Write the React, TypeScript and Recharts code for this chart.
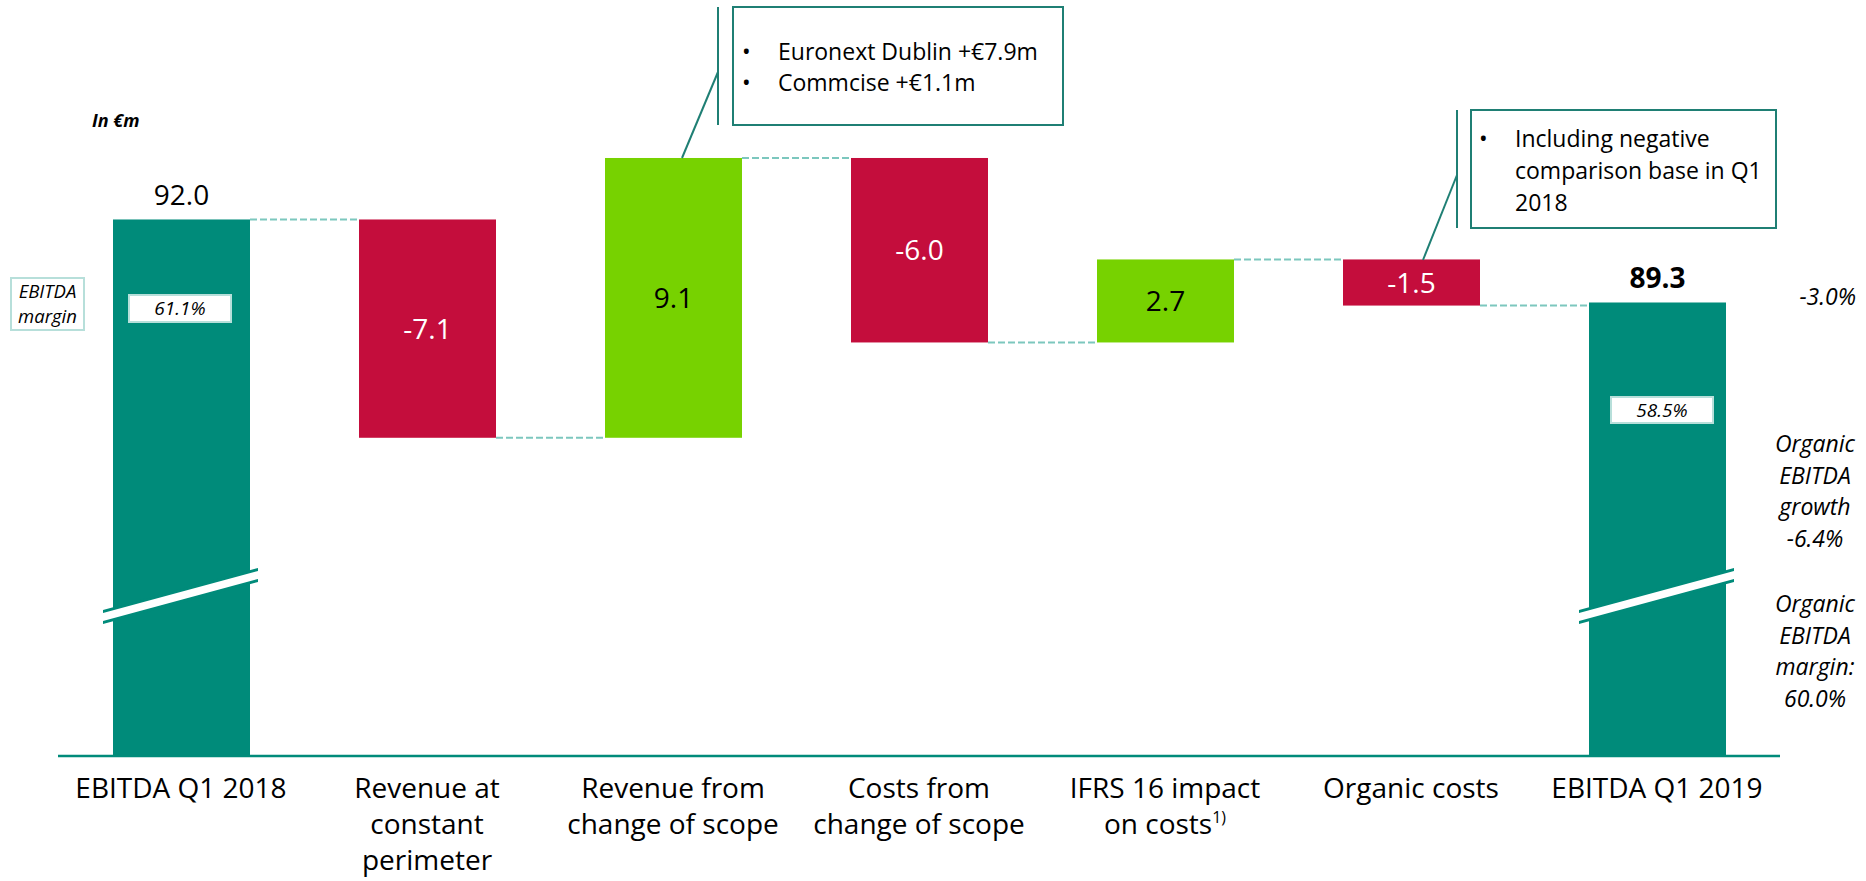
import React from 'react'
import { BarChart, Bar, XAxis, YAxis, LabelList } from 'recharts'

// EBITDA bridge Q1 2018 -> Q1 2019, in €m
const categories = [
  'EBITDA Q1 2018',
  'Revenue at\nconstant\nperimeter',
  'Revenue from\nchange of scope',
  'Costs from\nchange of scope',
  'IFRS 16 impact\non costs',
  'Organic costs',
  'EBITDA Q1 2019',
]
const footnotes = ['', '', '', '', '1)', '', '']
const changes = [92.0, -7.1, 9.1, -6.0, 2.7, -1.5, 89.3]
const isTotal = [true, false, false, false, false, false, true]
const marginLabels = ['61.1%', '', '', '', '', '', '58.5%']

const W = 1866
const H = 881
const MARGIN = { top: 35, right: 86, bottom: 15, left: 58 }
const AXIS_H = 110
const PLOT_BOTTOM = H - MARGIN.bottom - AXIS_H
const BAND = (W - MARGIN.left - MARGIN.right) / categories.length

const TEAL = '#008B7A'
const RED = '#C40D3C'
const GREEN = '#77D200'
const DARK_TEAL = '#1F7F74'
const LIGHT_TEAL = '#B7DFDA'
const FONT = "'Open Sans', sans-serif"

let running = 0
const data = categories.map((name, i) => {
  const v = changes[i]
  let range: number[]
  if (isTotal[i]) {
    range = [0, v]
    running = v
  } else {
    const start = running
    running = +(running + v).toFixed(1)
    range = [Math.min(start, running), Math.max(start, running)]
  }
  return { name, range, value: v, label: v.toFixed(1), total: isTotal[i], note: footnotes[i] }
})

const WaterfallBar = (props: any) => {
  const { x, y, width, height, index } = props
  const d = data[index]
  const top = Math.min(y, y + height)
  let bottom = Math.max(y, y + height)
  if (d.total) bottom = PLOT_BOTTOM
  const fill = d.total ? TEAL : d.value < 0 ? RED : GREEN
  const endY = d.total || d.value > 0 ? top : bottom
  const gap = BAND - width

  let brk = null
  if (d.total) {
    const cy = PLOT_BOTTOM - 160
    const x0 = x - 10
    const x1 = x + width + 8
    const rise = 21
    const poly = (half: number) =>
      `${x0},${cy + rise - half} ${x1},${cy - rise - half} ${x1},${cy - rise + half} ${x0},${cy + rise + half}`
    brk = (
      <g>
        <polygon points={poly(7)} fill={TEAL} />
        <polygon points={poly(4)} fill="#fff" />
      </g>
    )
  }

  return (
    <g>
      <rect x={x} y={top} width={width} height={bottom - top} fill={fill} />
      {brk}
      {index < data.length - 1 && (
        <line
          x1={x + width}
          x2={x + width + gap}
          y1={endY}
          y2={endY}
          stroke="#7CC7BE"
          strokeWidth={2}
          strokeDasharray="7 3"
        />
      )}
    </g>
  )
}

const ValueLabel = (props: any) => {
  const { x, y, width, height, index } = props
  const d = data[index]
  const top = Math.min(y, y + height)
  const cx = x + width / 2
  if (d.total) {
    return (
      <text x={cx} y={top - 14} textAnchor="middle" fontFamily={FONT} fontSize={28}
        fontWeight={index === data.length - 1 ? 700 : 400} fill="#000">
        {d.label}
      </text>
    )
  }
  const bottom = Math.max(y, y + height)
  return (
    <text x={cx} y={(top + bottom) / 2 + 10} textAnchor="middle" fontFamily={FONT} fontSize={28}
      fill={d.value < 0 ? '#fff' : '#000'}>
      {d.label}
    </text>
  )
}

const CategoryTick = (props: any) => {
  const { x, y, payload, index } = props
  const lines = String(payload.value).split('\n')
  const note = data[index] ? data[index].note : ''
  return (
    <text x={x} y={y} textAnchor="middle" fontFamily={FONT} fontSize={28} fill="#000">
      {lines.map((l, i) => (
        <tspan key={i} x={x} dy={i === 0 ? 42 : 36}>
          {l}
          {i === lines.length - 1 && note ? (
            <tspan dy={-11} fontSize={16}>{note}</tspan>
          ) : null}
        </tspan>
      ))}
    </text>
  )
}

const Annotations = () => (
  <svg width={W} height={H} style={{ position: 'absolute', left: 0, top: 0, pointerEvents: 'none' }}>
    <text x={92} y={127} fontFamily={FONT} fontSize={18} fontWeight={700} fontStyle="italic">In €m</text>

    <rect x={11} y={278} width={73} height={52} fill="#fff" stroke={LIGHT_TEAL} strokeWidth={2} />
    <text x={47.5} y={298} textAnchor="middle" fontFamily={FONT} fontSize={18.5} fontStyle="italic">EBITDA</text>
    <text x={47.5} y={323} textAnchor="middle" fontFamily={FONT} fontSize={18.5} fontStyle="italic">margin</text>

    <rect x={129} y={295} width={102} height={27} fill="#fff" stroke={LIGHT_TEAL} strokeWidth={2} />
    <text x={180} y={315} textAnchor="middle" fontFamily={FONT} fontSize={19} fontStyle="italic">{marginLabels[0]}</text>
    <rect x={1611} y={397} width={102} height={26} fill="#fff" stroke={LIGHT_TEAL} strokeWidth={2} />
    <text x={1662} y={417} textAnchor="middle" fontFamily={FONT} fontSize={19} fontStyle="italic">{marginLabels[6]}</text>

    {/* callout 1 */}
    <line x1={718} y1={7} x2={718} y2={125} stroke={DARK_TEAL} strokeWidth={2} />
    <line x1={718} y1={72} x2={682} y2={158} stroke={DARK_TEAL} strokeWidth={2} />
    <rect x={733} y={7} width={330} height={118} fill="#fff" stroke={DARK_TEAL} strokeWidth={2} />
    <text fontFamily={FONT} fontSize={23} fill="#000">
      <tspan x={742} y={60}>•</tspan>
      <tspan x={778} y={60}>Euronext Dublin +€7.9m</tspan>
      <tspan x={742} y={91}>•</tspan>
      <tspan x={778} y={91}>Commcise +€1.1m</tspan>
    </text>

    {/* callout 2 */}
    <line x1={1457} y1={110} x2={1457} y2={228} stroke={DARK_TEAL} strokeWidth={2} />
    <line x1={1457} y1={175} x2={1423} y2={260} stroke={DARK_TEAL} strokeWidth={2} />
    <rect x={1471} y={110} width={305} height={118} fill="#fff" stroke={DARK_TEAL} strokeWidth={2} />
    <text fontFamily={FONT} fontSize={23} fill="#000">
      <tspan x={1479} y={147}>•</tspan>
      <tspan x={1515} y={147}>Including negative</tspan>
      <tspan x={1515} y={179}>comparison base in Q1</tspan>
      <tspan x={1515} y={211}>2018</tspan>
    </text>

    {/* right side notes */}
    <text x={1856} y={305} textAnchor="end" fontFamily={FONT} fontSize={23} fontStyle="italic">-3.0%</text>
    <text textAnchor="middle" fontFamily={FONT} fontSize={23} fontStyle="italic">
      <tspan x={1815} y={452}>Organic</tspan>
      <tspan x={1815} y={484}>EBITDA</tspan>
      <tspan x={1815} y={515}>growth</tspan>
      <tspan x={1815} y={547}>-6.4%</tspan>
      <tspan x={1815} y={612}>Organic</tspan>
      <tspan x={1815} y={644}>EBITDA</tspan>
      <tspan x={1815} y={675}>margin:</tspan>
      <tspan x={1815} y={707}>60.0%</tspan>
    </text>
  </svg>
)

export default function App() {
  return (
    <div style={{ position: 'absolute', left: 0, top: 0, width: W, height: H, background: '#fff', fontFamily: FONT }}>
      <BarChart width={W} height={H} data={data} margin={MARGIN} barSize={137}>
        <XAxis
          dataKey="name"
          height={AXIS_H}
          interval={0}
          tickLine={false}
          tickSize={0}
          tickMargin={0}
          axisLine={{ stroke: TEAL, strokeWidth: 2.5 }}
          tick={<CategoryTick />}
        />
        <YAxis hide domain={[74.55, 98]} allowDataOverflow />
        <Bar dataKey="range" shape={<WaterfallBar />} isAnimationActive={false}>
          <LabelList dataKey="label" content={<ValueLabel />} />
        </Bar>
      </BarChart>
      <Annotations />
    </div>
  )
}
